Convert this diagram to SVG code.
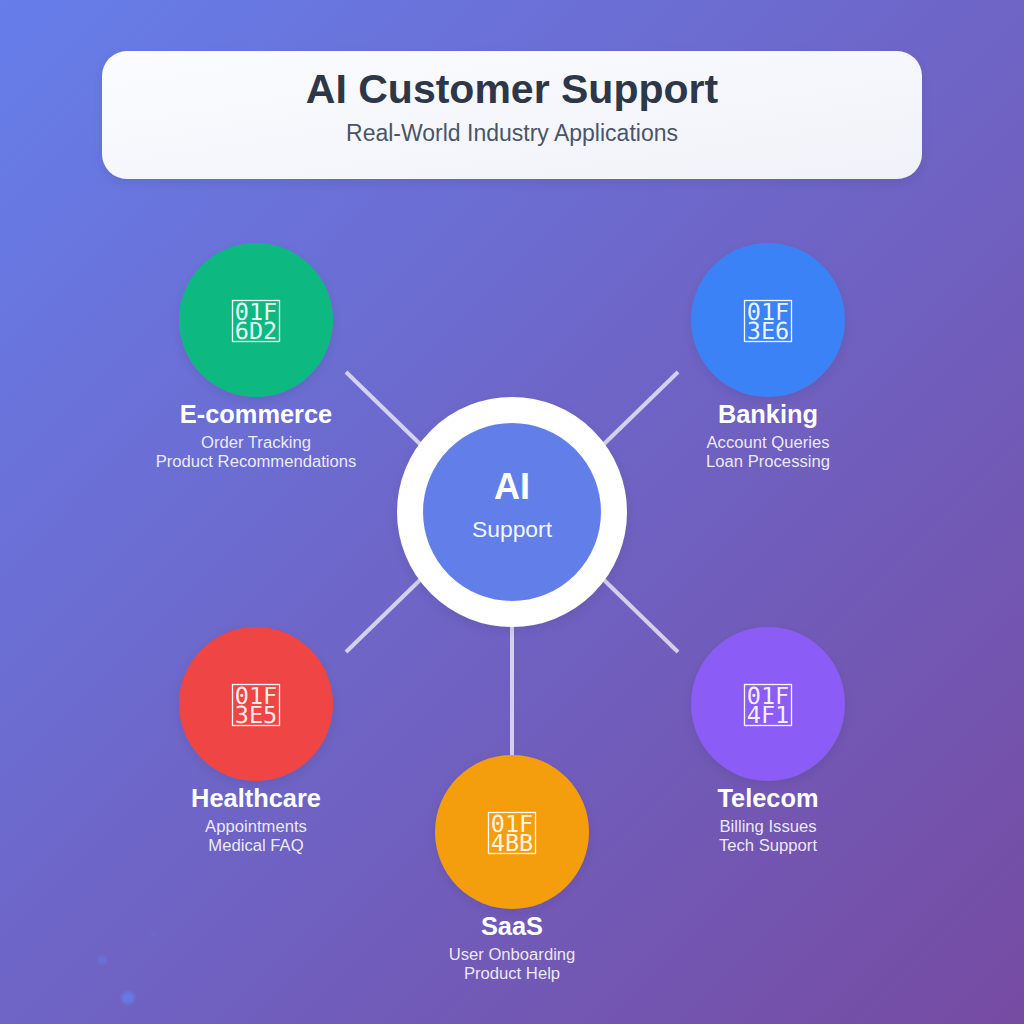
<svg xmlns="http://www.w3.org/2000/svg" width="1024" height="1024" viewBox="0 0 1024 1024">
<style>
text{font-family:"Liberation Sans",Arial,sans-serif;text-anchor:middle;fill:#fff}
.t{font-size:25.4px;font-weight:700}
.s{font-size:16.65px;fill-opacity:.88}
.g{font-family:"DejaVu Sans Mono",monospace;font-size:23.5px;fill-opacity:.92;text-rendering:geometricPrecision}
.b{fill:none;stroke:#fff;stroke-width:1.3;stroke-opacity:.95}
.n{filter:url(#sh)}
.c{stroke:#fff;stroke-opacity:.7;stroke-width:4;fill:none}
</style>
<defs>
<linearGradient id="bg" x1="0" y1="0" x2="1" y2="1"><stop offset="0" stop-color="#667eea"/><stop offset="1" stop-color="#764ba2"/></linearGradient>
<linearGradient id="hd" x1="0" y1="0" x2="1" y2="1"><stop offset="0" stop-color="#fbfcff"/><stop offset="1" stop-color="#f0f2f9"/></linearGradient>
<filter id="sh" x="-30%" y="-30%" width="160%" height="160%"><feDropShadow dx="0" dy="4" stdDeviation="6" flood-color="#000" flood-opacity=".08"/></filter>
<filter id="bl" x="-100%" y="-100%" width="300%" height="300%"><feGaussianBlur stdDeviation="1.5"/></filter>
</defs>
<rect width="1024" height="1024" fill="url(#bg)"/>
<g fill="#667eea" filter="url(#bl)">
<circle cx="128" cy="998" r="6.5" fill-opacity=".8"/>
<circle cx="102" cy="960" r="4.5" fill-opacity=".5"/>
<circle cx="153" cy="934" r="2.5" fill-opacity=".25"/>
</g>
<g id="header">
<rect class="n" x="102" y="51" width="820" height="128" rx="25" fill="url(#hd)"/>
<text x="512" y="103" style="font-size:41px;font-weight:700;fill:#2d3748">AI Customer Support</text>
<text x="512" y="141" style="font-size:23px;fill:#4a5568">Real-World Industry Applications</text>
</g>
<g id="connectors" class="c">
<line x1="420" y1="444" x2="346" y2="372"/>
<line x1="604" y1="444" x2="678" y2="372"/>
<line x1="420" y1="580" x2="346" y2="652"/>
<line x1="604" y1="580" x2="678" y2="652"/>
<line x1="512" y1="627" x2="512" y2="755"/>
</g>
<g id="center">
<circle class="n" cx="512" cy="512" r="102" fill="#627fe9" stroke="#fff" stroke-width="26"/>
<text x="512" y="499" style="font-size:36px;font-weight:700">AI</text>
<text x="512" y="537" style="font-size:22.9px;fill-opacity:.95">Support</text>
</g>
<g id="ecommerce">
<circle class="n" cx="256" cy="320" r="77" fill="#10b981"/>
<rect class="b" x="232.5" y="300.5" width="47" height="41"/>
<text class="g"><tspan x="256" y="320">01F</tspan><tspan x="256" y="339">6D2</tspan></text>
<text class="t" x="256" y="422.5">E-commerce</text>
<text class="s" x="256" y="448">Order Tracking</text>
<text class="s" x="256" y="467">Product Recommendations</text>
</g>
<g id="banking">
<circle class="n" cx="768" cy="320" r="77" fill="#3b82f6"/>
<rect class="b" x="744.5" y="300.5" width="47" height="41"/>
<text class="g"><tspan x="768" y="320">01F</tspan><tspan x="768" y="339">3E6</tspan></text>
<text class="t" x="768" y="422.5">Banking</text>
<text class="s" x="768" y="448">Account Queries</text>
<text class="s" x="768" y="467">Loan Processing</text>
</g>
<g id="healthcare">
<circle class="n" cx="256" cy="704" r="77" fill="#ef4444"/>
<rect class="b" x="232.5" y="684.5" width="47" height="41"/>
<text class="g"><tspan x="256" y="704">01F</tspan><tspan x="256" y="723">3E5</tspan></text>
<text class="t" x="256" y="806.5">Healthcare</text>
<text class="s" x="256" y="832">Appointments</text>
<text class="s" x="256" y="851">Medical FAQ</text>
</g>
<g id="telecom">
<circle class="n" cx="768" cy="704" r="77" fill="#8b5cf6"/>
<rect class="b" x="744.5" y="684.5" width="47" height="41"/>
<text class="g"><tspan x="768" y="704">01F</tspan><tspan x="768" y="723">4F1</tspan></text>
<text class="t" x="768" y="806.5">Telecom</text>
<text class="s" x="768" y="832">Billing Issues</text>
<text class="s" x="768" y="851">Tech Support</text>
</g>
<g id="saas">
<circle class="n" cx="512" cy="832" r="77" fill="#f59e0b"/>
<rect class="b" x="488.5" y="812.5" width="47" height="41"/>
<text class="g"><tspan x="512" y="832">01F</tspan><tspan x="512" y="851">4BB</tspan></text>
<text class="t" x="512" y="934.5">SaaS</text>
<text class="s" x="512" y="960">User Onboarding</text>
<text class="s" x="512" y="979">Product Help</text>
</g>
</svg>
